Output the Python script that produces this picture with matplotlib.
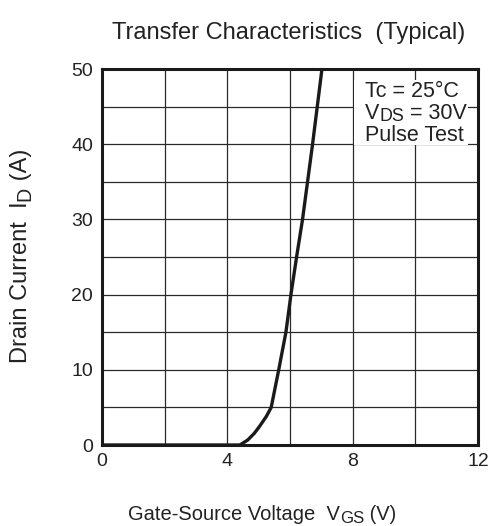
import math
import matplotlib
matplotlib.use("Agg")
import matplotlib.pyplot as plt
from matplotlib.ticker import MultipleLocator
from matplotlib.patches import Rectangle
from matplotlib.transforms import ScaledTranslation

plt.rcParams['font.family'] = ['Liberation Sans', 'DejaVu Sans']

# Data
vgs = [0.0, 4.4, 4.65, 4.86, 5.02, 5.24, 5.40, 5.64, 5.87, 6.03, 6.21, 6.40, 6.56, 6.72, 6.87, 7.02]
id_a = [0.0, 0.0, 0.66, 1.55, 2.43, 3.77, 5.0, 10.0, 15.0, 20.0, 25.0, 30.0, 35.0, 40.0, 45.0, 50.0]
x_ticks = [0, 4, 8, 12]
y_ticks = [0, 10, 20, 30, 40, 50]

title = "Transfer Characteristics  (Typical)"
xlabel_parts = [("Gate-Source Voltage  V", False), ("GS", True), (" (V)", False)]
ylabel_parts = [("Drain Current  I", False), ("D", True), (" (A)", False)]
note_lines = [
    [("Tc = 25°C", False)],
    [("V", False), ("DS", True), (" = 30V", False)],
    [("Pulse Test", False)],
]

txt = '#222222'
W, H = 495, 526
fig = plt.figure(figsize=(W / 100, H / 100), dpi=100)
ax = fig.add_axes([102 / W, 1 - 445 / H, 376 / W, 376 / H])

ax.plot(vgs, id_a, color='#1a1a1a', lw=2.4, solid_capstyle='butt', zorder=3)
ax.set_xlim(0, 12)
ax.set_ylim(0, 50)
ax.set_xticks(x_ticks)
ax.set_yticks(y_ticks)
ax.xaxis.set_minor_locator(MultipleLocator(2))
ax.yaxis.set_minor_locator(MultipleLocator(5))
ax.grid(True, which='both', color='#2a2a2a', lw=0.9)
ax.set_axisbelow(True)
ax.tick_params(which='both', length=0, labelsize=14, colors=txt)
ax.tick_params(axis='x', pad=5.5)
ax.tick_params(axis='y', pad=6.5)
for s in ax.spines.values():
    s.set_linewidth(2.2)
    s.set_color('#1a1a1a')
    s.set_zorder(4)

# white box behind the note
ax.add_patch(Rectangle((0.670, 0.798), 0.303, 0.173, transform=ax.transAxes,
                       facecolor='white', edgecolor='none', zorder=2.5))

renderer = fig.canvas.get_renderer()


def rich_text(px, py, parts, size, rotation=0, ha='left', sub_scale=0.83, sub_drop=0.14):
    """Place text at pixel position (px, py from top) on baseline, with big subscripts."""
    widths = []
    for s, sub in parts:
        fs = size * (sub_scale if sub else 1.0)
        t = fig.text(0, 0, s, fontsize=fs)
        widths.append(t.get_window_extent(renderer).width / fig.dpi)
        t.remove()
    total = sum(widths)
    r = math.radians(rotation)
    along = (math.cos(r), math.sin(r))
    down = (math.sin(r), -math.cos(r))
    start = 0.0 if ha == 'left' else -total / 2
    pos = start
    for (s, sub), w in zip(parts, widths):
        fs = size * (sub_scale if sub else 1.0)
        drop = sub_drop * size / 72.0 if sub else 0.0
        dx = along[0] * pos + down[0] * drop
        dy = along[1] * pos + down[1] * drop
        tr = fig.transFigure + ScaledTranslation(dx, dy, fig.dpi_scale_trans)
        fig.text(px / W, 1 - py / H, s, fontsize=fs, color=txt, transform=tr,
                 ha='left', va='baseline', rotation=rotation, rotation_mode='anchor',
                 zorder=6)
        pos += w


fig.text(289 / W, 1 - 39 / H, title, fontsize=17, color=txt, ha='center', va='baseline')
rich_text(262, 520, xlabel_parts, 14.5, ha='center')
rich_text(27, 255.5, ylabel_parts, 17, rotation=90, ha='center')

for line, by in zip(note_lines, [97, 119, 141]):
    rich_text(365, by, line, 15.5, ha='left', sub_drop=0.1)

fig.savefig('out.png', dpi=100)
